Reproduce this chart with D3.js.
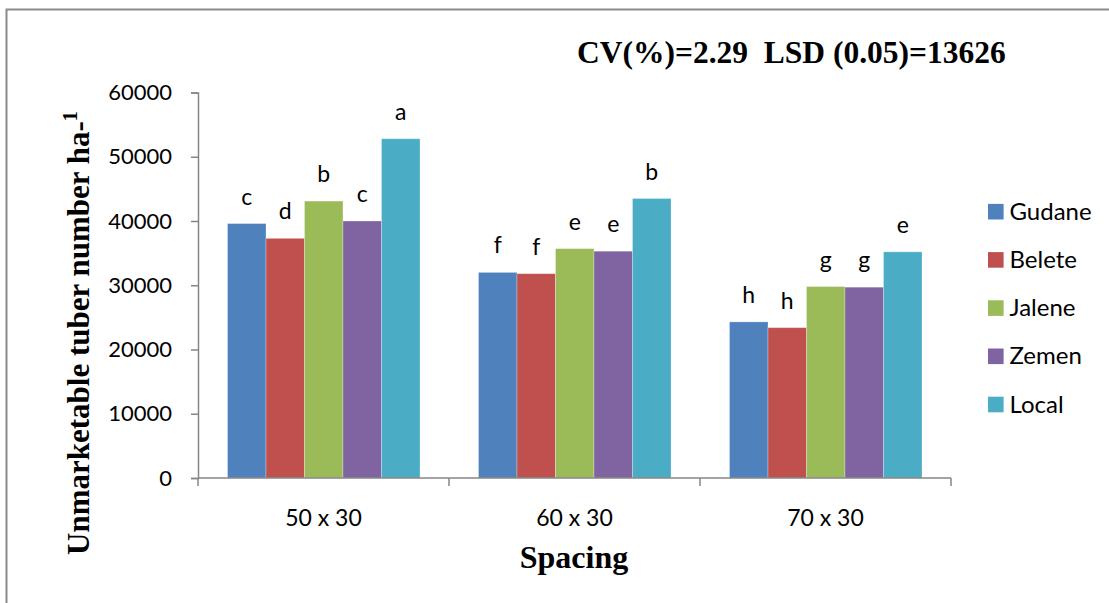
<!DOCTYPE html>
<html>
<head>
<meta charset="utf-8">
<script src="https://cdn.jsdelivr.net/npm/d3@7/dist/d3.min.js"></script>
<style>
  html, body { margin: 0; padding: 0; background: #fff; }
  svg { display: block; }
</style>
</head>
<body>
<svg id="chart" width="1109" height="603"></svg>
<script>
// Spacing treatments on the x axis, varieties as the bar series
const spacings = ["50 x 30", "60 x 30", "70 x 30"];
const varieties = ["Gudane", "Belete", "Jalene", "Zemen", "Local"];
const colors = ["#4F81BD", "#C0504D", "#9BBB59", "#8064A2", "#4BACC6"];

// Unmarketable tuber number per hectare, one array per variety (50, 60, 70 cm spacing)
const gudane = [39600, 32000, 24300];
const belete = [37300, 31800, 23400];
const jalene = [43100, 35700, 29800];
const zemen  = [40000, 35300, 29700];
const local  = [52800, 43500, 35200];

// Mean separation letters, same order
const gudaneLetters = ["c", "f", "h"];
const beleteLetters = ["d", "f", "h"];
const jaleneLetters = ["b", "e", "g"];
const zemenLetters  = ["c", "e", "g"];
const localLetters  = ["a", "b", "e"];

const yTicks = [0, 10000, 20000, 30000, 40000, 50000, 60000];

const seriesValues = [gudane, belete, jalene, zemen, local];
const seriesLetters = [gudaneLetters, beleteLetters, jaleneLetters, zemenLetters, localLetters];

const svg = d3.select("#chart");
const tickFont = "Lato, 'Open Sans', sans-serif";
const serif = "'Liberation Serif', 'Times New Roman', serif";
const axisColor = "#868686";

// outer frame
svg.append("path")
  .attr("d", "M6.5,603 V9.5 H1109")
  .attr("fill", "none")
  .attr("stroke", "#8a8a8a")
  .attr("stroke-width", 2);

const plot = { left: 198, right: 951, top: 92.5, bottom: 478 };

const x = d3.scaleBand().domain(spacings).range([plot.left, plot.right]).padding(0);
const xInner = d3.scaleBand().domain(varieties)
  .range([29.5, x.bandwidth() - 29]).padding(0);
const y = d3.scaleLinear().domain([0, 60000]).range([plot.bottom, plot.top]);

// bars
const groups = svg.append("g").selectAll("g")
  .data(spacings)
  .join("g")
  .attr("transform", d => `translate(${x(d)},0)`);

groups.each(function (sp, gi) {
  const g = d3.select(this);
  const rows = varieties.map((v, si) => ({
    variety: v, value: seriesValues[si][gi], letter: seriesLetters[si][gi], color: colors[si]
  }));
  g.selectAll("rect")
    .data(rows)
    .join("rect")
    .attr("x", d => xInner(d.variety))
    .attr("y", d => y(d.value))
    .attr("width", xInner.bandwidth())
    .attr("height", d => y(0) - y(d.value))
    .attr("fill", d => d.color)
    .attr("stroke", "rgba(255,255,255,0.35)")
    .attr("stroke-width", 0.8);
  g.selectAll("text")
    .data(rows)
    .join("text")
    .attr("x", d => xInner(d.variety) + xInner.bandwidth() / 2)
    .attr("y", d => y(d.value) - 19)
    .attr("text-anchor", "middle")
    .attr("font-family", tickFont)
    .attr("font-size", 23)
    .attr("fill", "#000")
    .text(d => d.letter);
});

// y axis
const yAxis = svg.append("g")
  .attr("transform", `translate(${plot.left},0)`)
  .call(d3.axisLeft(y).tickValues(yTicks).tickFormat(d3.format("d")).tickSize(7).tickPadding(19));
yAxis.select(".domain").attr("stroke", axisColor).attr("stroke-width", 1.5);
yAxis.selectAll(".tick line").attr("stroke", axisColor).attr("stroke-width", 1.5);
yAxis.selectAll(".tick text")
  .attr("font-family", tickFont).attr("font-size", 22).attr("fill", "#000");

// x axis line and boundary ticks
const xAxis = svg.append("g");
xAxis.append("line")
  .attr("x1", plot.left).attr("x2", plot.right)
  .attr("y1", y(0)).attr("y2", y(0))
  .attr("stroke", axisColor).attr("stroke-width", 1.5);
const bounds = spacings.map(s => x(s)).concat([x(spacings[spacings.length - 1]) + x.bandwidth()]);
xAxis.selectAll("line.tk")
  .data(bounds)
  .join("line")
  .attr("class", "tk")
  .attr("x1", d => d).attr("x2", d => d)
  .attr("y1", y(0)).attr("y2", y(0) + 8)
  .attr("stroke", axisColor).attr("stroke-width", 1.5);
xAxis.selectAll("text")
  .data(spacings)
  .join("text")
  .attr("x", d => x(d) + x.bandwidth() / 2)
  .attr("y", 526)
  .attr("text-anchor", "middle")
  .attr("font-family", tickFont)
  .attr("font-size", 23)
  .attr("fill", "#000")
  .text(d => d);

// axis titles
svg.append("text")
  .attr("x", 574)
  .attr("y", 568)
  .attr("text-anchor", "middle")
  .attr("font-family", serif)
  .attr("font-weight", "bold")
  .attr("font-size", 32)
  .text("Spacing");

const yTitle = svg.append("text")
  .attr("transform", "translate(89,555) rotate(-90)")
  .attr("text-anchor", "start")
  .attr("font-family", serif)
  .attr("font-weight", "bold")
  .attr("font-size", 31);
yTitle.append("tspan").text("Unmarketable tuber number ha-");
yTitle.append("tspan").attr("font-size", 20).attr("dy", -12).text("1");

// statistics heading
svg.append("text")
  .attr("x", 577)
  .attr("y", 63)
  .attr("font-family", serif)
  .attr("font-weight", "bold")
  .attr("font-size", 31.5)
  .attr("xml:space", "preserve")
  .text("CV(%)=2.29  LSD (0.05)=13626");

// legend
const legend = svg.append("g")
  .selectAll("g")
  .data(varieties)
  .join("g")
  .attr("transform", (d, i) => `translate(988,${211.7 + i * 48.2})`);
legend.append("rect")
  .attr("x", 0).attr("y", -7.8)
  .attr("width", 15.6).attr("height", 15.6)
  .attr("fill", (d, i) => colors[i]);
legend.append("text")
  .attr("x", 21.5)
  .attr("y", 8)
  .attr("font-family", tickFont)
  .attr("font-size", 24)
  .attr("fill", "#000")
  .text(d => d);
</script>
</body>
</html>
